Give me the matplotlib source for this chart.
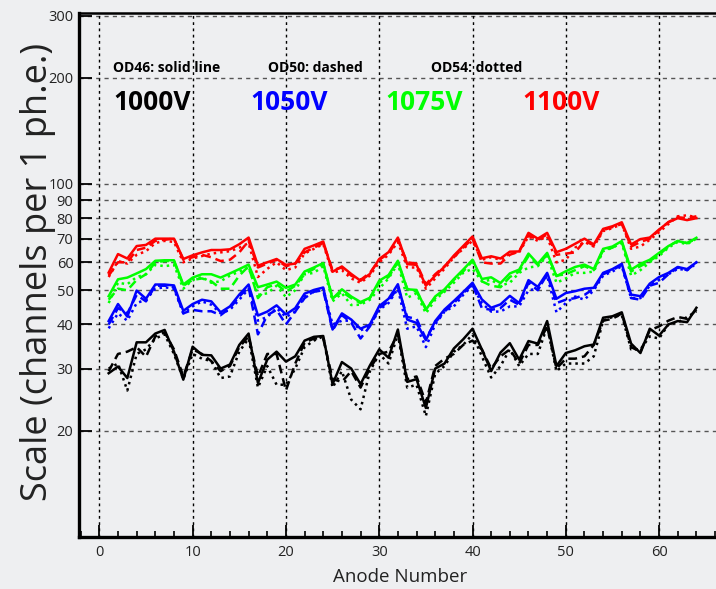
import matplotlib
matplotlib.use("Agg")
import matplotlib.pyplot as plt
from matplotlib import font_manager
from matplotlib.ticker import FixedLocator, NullFormatter, MultipleLocator

# anode numbers and scale values (channels per 1 ph.e.)
anodes = list(range(1, 65))

# solid = OD46, dashed = OD50, dotted = OD54
red_solid = [56.1, 63.3, 61.5, 66.7, 67.2, 70, 70, 70, 61.3, 62.8,
             64, 65, 65, 65.3, 67.5, 70.5, 58.7, 60, 61.3, 59,
             59.5, 65.5, 67, 68.7, 56.4, 58.4, 55.6, 53.2, 55.6, 61.3,
             64.1, 70.5, 59.3, 59, 51.5, 55, 58.3, 62.7, 66.7, 71,
             61.6, 62.4, 61.5, 64.3, 64.4, 72.7, 70, 72.7, 64.1, 65.5,
             67.7, 70, 67.4, 74.6, 75.9, 77.9, 67.4, 69.8, 70.5, 74.3,
             77.9, 80, 79, 80]
red_dashed = [55, 60, 60, 65, 66, 69, 69.5, 70, 61, 62,
              63, 62, 60.5, 61, 64, 69, 58, 59.5, 61, 58.5,
              59.5, 64, 66, 68, 57, 58, 55, 53.5, 56, 61,
              63.5, 69.5, 60, 59.5, 52, 55.5, 58.5, 62, 66, 70,
              60, 59.5, 59.5, 63, 64.5, 71.5, 69.5, 72, 63, 63.5,
              64, 69, 67, 74, 75.5, 77, 66.5, 68.5, 70, 74,
              78, 80.5, 80, 81]
red_dotted = [54.5, 60.5, 59.5, 63, 64.5, 68, 69, 68.5, 60, 61.5,
              62.5, 63.5, 64, 64.5, 66, 68, 54.5, 57.5, 60, 57,
              58, 63.5, 65.5, 67.5, 56, 57, 54, 52.5, 55, 60,
              63, 68.5, 58, 58, 50.5, 54, 57.5, 62, 65.5, 69,
              61, 62, 61, 63.5, 64, 71, 69, 71, 60, 61,
              66, 68.5, 66.5, 73.5, 75, 77, 65.5, 66.5, 69.5, 73,
              77, 81, 81.5, 80.5]

green_solid = [48.1, 53.7, 54.3, 55.8, 57.4, 60.6, 60.8, 60.8, 51.9, 54.3,
               55.5, 55.5, 54.3, 55.8, 57.4, 59.1, 51, 51.9, 52.9, 50.8,
               51.9, 56.5, 58, 59.7, 47.3, 50.3, 48, 46.3, 47.6, 53.2,
               55.2, 60.6, 50.3, 50.1, 44, 48, 50.3, 53.8, 57.2, 61,
               53.8, 54.4, 52.4, 55.8, 57.2, 63.5, 59.4, 63.8, 54.8, 56.6,
               58.2, 59.1, 57.4, 65.5, 66.5, 68.9, 57.2, 59.4, 61, 63.8,
               66.7, 68.9, 68, 70.4]
green_dashed = [47, 50.5, 50, 53.5, 55.5, 60, 60.5, 60.5, 51.5, 53.5,
                54, 53, 50.5, 50.5, 55, 58.5, 47.5, 51, 52, 49.5,
                51.5, 55.5, 57.5, 59.5, 47.5, 49.5, 47.5, 46, 47.5, 52.5,
                54.5, 60, 50.5, 49.5, 44.5, 47.5, 50, 53.5, 56.5, 60.5,
                53, 51.5, 51, 54.5, 56.5, 62.5, 59, 63, 55, 55.5,
                57, 58.5, 57, 65, 66, 68.5, 56.5, 58.5, 60.5, 63,
                66.5, 69, 68, 70]
green_dotted = [46, 52.5, 52, 54.5, 55.5, 59, 58.5, 59, 50.5, 53.5,
                54.5, 52.5, 53, 55, 56.5, 58, 48.5, 49, 51.5, 47.8,
                50, 55.5, 56, 58.5, 46.5, 49, 45.4, 45.5, 47, 50.5,
                54, 59.5, 47.6, 49, 43, 47, 49.5, 52.5, 56, 57.5,
                53, 53.5, 51.5, 52.5, 56, 58, 58.5, 62.5, 52.5, 54,
                56, 56, 56.5, 64.5, 66, 68, 55, 57, 60, 62.5,
                66, 68.5, 67.5, 70]

blue_solid = [40.9, 45.7, 42.1, 49.9, 47.3, 51.9, 51.9, 51.6, 43.7, 45.7,
              47, 46.5, 43.3, 45, 48.6, 51.9, 42.4, 43.5, 45.3, 42.7,
              44.5, 48.9, 50.1, 50.9, 38.7, 43, 41.3, 38.9, 40, 45.1,
              47.3, 52, 41.3, 40.4, 36.1, 40.9, 44.1, 46.6, 49.4, 52.5,
              47.1, 44.6, 45.6, 48.2, 46, 53.4, 51.1, 56, 47.3, 49.1,
              49.7, 50.5, 50.8, 56, 57.4, 59.4, 48.6, 48.1, 52.2, 54.5,
              56, 58.2, 57.4, 60]
blue_dashed = [40, 44.5, 43, 48.5, 46.5, 51.5, 51.5, 51, 43, 44,
               43.6, 43.6, 42.5, 44.5, 48, 51, 37.5, 42.5, 44, 40,
               43.5, 47.5, 49.5, 50, 38.5, 42.5, 40.5, 36.5, 39.5, 44.5,
               46.5, 51, 42, 41.5, 36.5, 40.5, 43.5, 46, 49, 52,
               44.5, 44, 44.5, 47, 45.5, 52.5, 50, 55.5, 46, 47,
               47.5, 48.5, 50.5, 55.5, 57, 59, 47.5, 47, 51.5, 52.5,
               55.5, 58, 57, 60]
blue_dotted = [39, 43, 41, 46, 47, 50.5, 51, 50.5, 43, 45,
               46.5, 45.5, 43, 44, 47, 50.5, 41, 42, 44.5, 42,
               43.5, 48, 49.5, 50.5, 40, 41, 41, 38.5, 39.5, 44,
               46, 50.5, 38.9, 39.5, 34.5, 40, 43.5, 45, 48.5, 51.5,
               46, 43.5, 43.5, 45, 45, 50, 50.5, 55, 43.3, 46,
               48, 47, 50, 55, 56.5, 58.5, 47.5, 47.5, 51.5, 53.5,
               55.5, 57.5, 57, 59.5]

black_solid = [29.1, 30.4, 28.2, 35.6, 35.6, 37.7, 38.6, 33.5, 27.9, 34.6,
               32.8, 32.7, 30, 30.8, 35, 37.7, 27.3, 31.8, 33.5, 31.4,
               32.5, 36, 36.9, 37.1, 27.1, 31.3, 30, 27.1, 30.6, 34,
               32.2, 38.7, 27.5, 28, 23.2, 30, 31, 34.2, 36.3, 38.9,
               34, 29.5, 33.3, 35.4, 31.8, 35.9, 35.3, 40.9, 30.5, 33.2,
               33.8, 34.7, 35.1, 41.8, 42.2, 43.3, 35.3, 33.2, 38.9, 37.2,
               40, 40.9, 40.6, 44.6]
black_dashed = [29.5, 33, 33.5, 34.5, 32.4, 37, 38, 34, 28.5, 34,
                33, 31.5, 29.5, 30.5, 34.5, 37, 28.5, 33, 33, 26,
                31, 35.5, 36.5, 36.5, 28, 27.5, 29.5, 26.5, 30, 33,
                33.5, 37.5, 28, 28.5, 24, 30.5, 32, 33, 35, 36,
                34, 30, 32.5, 34, 31, 35, 35, 39.5, 30, 32,
                32, 32.5, 35, 41, 41.5, 43, 34.5, 33.5, 38.5, 39.5,
                41, 42, 41.5, 44]
black_dotted = [30, 31, 26, 33, 34, 36.5, 37.5, 33, 28, 33,
                32, 31.5, 28.2, 28.5, 33.5, 36.5, 26.5, 30.5, 27, 27,
                30, 34.5, 36, 37, 26.5, 29.5, 24.5, 23, 29.5, 33,
                31, 37.5, 26.5, 27, 22, 29, 30.5, 33.5, 35, 37.5,
                32.5, 28.3, 30.5, 34, 30.5, 33, 33, 39.5, 29.5, 31,
                31, 31, 32.5, 41, 42, 42.5, 34, 34, 37, 36.5,
                40, 40.5, 42, 43.5]

series = [
    ("black", black_solid, black_dashed, black_dotted),
    ("blue", blue_solid, blue_dashed, blue_dotted),
    ("#00ff00", green_solid, green_dashed, green_dotted),
    ("red", red_solid, red_dashed, red_dotted),
]

voltages = ["1000V", "1050V", "1075V", "1100V"]
volt_colors = ["black", "blue", "#00ff00", "red"]
volt_x = [1.5, 16.2, 30.7, 45.4]
od_labels = ["OD46: solid line", "OD50: dashed", "OD54: dotted"]
od_x = [1.5, 18.1, 35.6]

y_ticks = [20, 30, 40, 50, 60, 70, 80, 90, 100, 200, 300]
x_ticks = [0, 10, 20, 30, 40, 50, 60]

available = {f.name for f in font_manager.fontManager.ttflist}
base_font = "Open Sans" if "Open Sans" in available else "DejaVu Sans"
plt.rcParams["font.family"] = base_font

bg = "#eeeff1"
fig = plt.figure(figsize=(7.16, 5.89), dpi=100, facecolor=bg)
ax = fig.add_axes([79 / 716, 1 - 537 / 589, 1 - 79 / 716, (537 - 13) / 589])
ax.set_facecolor(bg)

for color, solid, dashed, dotted in series:
    ax.plot(anodes, dotted, color=color, lw=1.8, ls=(0, (1, 1.6)), zorder=3)
    ax.plot(anodes, dashed, color=color, lw=1.8, ls=(0, (3.5, 2)), zorder=3)
    ax.plot(anodes, solid, color=color, lw=1.8, ls="-", zorder=4)

ax.set_yscale("log")
ax.set_ylim(10, 305)
ax.set_xlim(-2.18, 66.1)

ax.yaxis.set_major_locator(FixedLocator(y_ticks))
ax.yaxis.set_minor_locator(FixedLocator([]))
ax.yaxis.set_minor_formatter(NullFormatter())
ax.set_yticklabels([str(t) for t in y_ticks])
ax.xaxis.set_major_locator(FixedLocator(x_ticks))
ax.xaxis.set_minor_locator(MultipleLocator(2))

ax.tick_params(axis="both", which="major", direction="in", length=9, width=1.3,
               labelsize=10.5, labelcolor="#222222")
ax.tick_params(axis="x", which="minor", direction="in", length=4, width=1.2)
ax.tick_params(axis="x", which="major", pad=6)
ax.tick_params(axis="y", which="major", pad=4)

for y in y_ticks:
    ax.axhline(y, color="#555555", lw=1.0, ls=(0, (3, 3)), zorder=1)
for x in x_ticks:
    ax.axvline(x, color="black", lw=1.0, ls=(0, (2, 2.5)), zorder=1)

ax.spines["left"].set_linewidth(2.4)
ax.spines["bottom"].set_linewidth(2.4)
ax.spines["top"].set_linewidth(1.8)
ax.spines["right"].set_visible(False)

for label, x in zip(od_labels, od_x):
    ax.text(x, 213, label, fontsize=10, fontweight="bold",
            color="black", va="center", ha="left", zorder=5)
for label, x, c in zip(voltages, volt_x, volt_colors):
    ax.text(x, 170, label, fontsize=19, fontweight="bold", color=c,
            va="center", ha="left", zorder=5)

fig.text(38 / 716, 1 - 272 / 589, "Scale (channels per 1 ph.e.)", fontsize=26,
         rotation=90, ha="center", va="center", color="#222222")
fig.text(400 / 716, 1 - 577 / 589, "Anode Number", fontsize=13.5,
         ha="center", va="center", color="#222222")

fig.savefig("out.png", dpi=100, facecolor=bg)
